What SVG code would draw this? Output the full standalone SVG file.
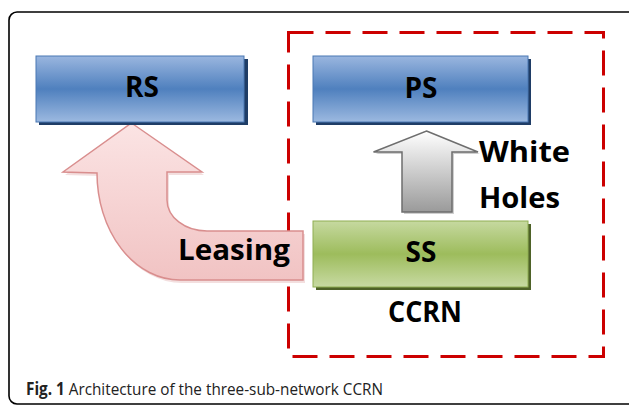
<svg xmlns="http://www.w3.org/2000/svg" width="629" height="406" viewBox="0 0 629 406">
<defs>
<linearGradient id="gBlue" x1="0" y1="0" x2="0" y2="1">
<stop offset="0" stop-color="#9ab6df"/>
<stop offset="0.5" stop-color="#4f80be"/>
<stop offset="1" stop-color="#9cb9e0"/>
</linearGradient>
<linearGradient id="gGreen" x1="0" y1="0" x2="0" y2="1">
<stop offset="0" stop-color="#c6d9a0"/>
<stop offset="0.5" stop-color="#9dbc5c"/>
<stop offset="1" stop-color="#c8daa3"/>
</linearGradient>
<linearGradient id="gPink" x1="0" y1="0" x2="0" y2="1">
<stop offset="0" stop-color="#fbe4e4"/>
<stop offset="1" stop-color="#f1c3c3"/>
</linearGradient>
<linearGradient id="gGray" x1="0" y1="0" x2="0" y2="1">
<stop offset="0" stop-color="#ffffff"/>
<stop offset="1" stop-color="#9a9a9a"/>
</linearGradient>
<style>
.lbl{font-family:"Open Sans","Liberation Sans",sans-serif;font-weight:bold;font-size:28px;fill:#000}
.cap{font-family:"Open Sans","Liberation Sans",sans-serif;font-size:17px;fill:#222}
</style>
</defs>
<rect x="9" y="12" width="628" height="392" rx="8" fill="#fff" stroke="#000" stroke-width="1.6"/>
<rect id="ccrn-frame" x="288.5" y="32.5" width="315" height="324" fill="none" stroke="#cc0000" stroke-width="3" stroke-dasharray="25 12"/>
<g id="connectors">
<path d="M131.5 123 L202 172 L167 172 L167 200 A40 31 0 0 0 207 231 L303 231 L303 280 L180 280 A83 107 0 0 1 97 173 L63 172 Z" fill="#e8c0c0" opacity="0.5" transform="translate(2,3)"/>
<path d="M131.5 123 L202 172 L167 172 L167 200 A40 31 0 0 0 207 231 L303 231 L303 280 L180 280 A83 107 0 0 1 97 173 L63 172 Z" fill="url(#gPink)" stroke="#d98e8e" stroke-width="1.5"/>
<path d="M426.5 131 L478 152 L452 152 L452 212 L402 212 L402 152 L373.5 152 Z" fill="#cfcfcf" transform="translate(2,2)"/>
<path d="M426.5 131 L478 152 L452 152 L452 212 L402 212 L402 152 L373.5 152 Z" fill="url(#gGray)" stroke="#6e6e6e" stroke-width="1.5"/>
</g>
<g id="RS">
<rect x="39" y="59" width="209" height="66" fill="#1f3d66"/>
<rect x="36" y="56" width="208" height="66" fill="url(#gBlue)" stroke="#4a78b3" stroke-width="1"/>
<text class="lbl" x="142" y="97" text-anchor="middle">RS</text>
</g>
<g id="PS">
<rect x="316" y="59" width="215" height="66" fill="#1f3d66"/>
<rect x="313" y="56" width="215" height="66" fill="url(#gBlue)" stroke="#4a78b3" stroke-width="1"/>
<text class="lbl" x="421" y="98" text-anchor="middle">PS</text>
</g>
<g id="SS">
<rect x="316" y="224" width="215" height="66" fill="#4e6228"/>
<rect x="313" y="221" width="215" height="66" fill="url(#gGreen)" stroke="#8fae52" stroke-width="1"/>
<text class="lbl" x="421" y="262" text-anchor="middle">SS</text>
</g>
<g id="labels">
<text class="lbl" x="178" y="260" textLength="112" lengthAdjust="spacingAndGlyphs">Leasing</text>
<text class="lbl" x="479" y="162" textLength="91" lengthAdjust="spacingAndGlyphs">White</text>
<text class="lbl" x="479" y="208" textLength="81" lengthAdjust="spacingAndGlyphs">Holes</text>
<text class="lbl" x="388" y="322" textLength="74" lengthAdjust="spacingAndGlyphs">CCRN</text>
</g>
<text class="cap" x="26" y="395" textLength="357" lengthAdjust="spacingAndGlyphs"><tspan font-weight="bold">Fig. 1</tspan> Architecture of the three-sub-network CCRN</text>
</svg>
